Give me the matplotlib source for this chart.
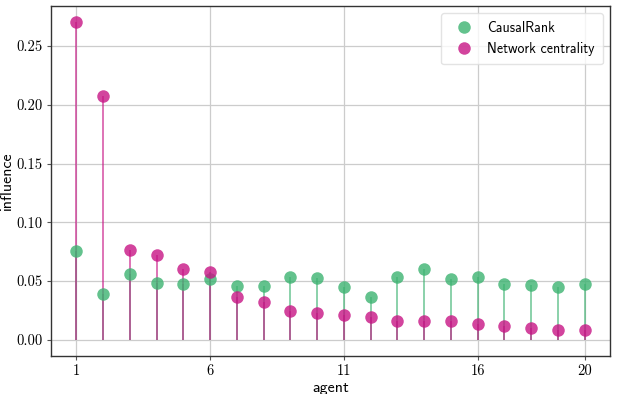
import numpy as np
import matplotlib
matplotlib.use("Agg")
import matplotlib.pyplot as plt

agents = np.arange(1, 21)
causal_rank = [0.0757, 0.0393, 0.0558, 0.0481, 0.0478, 0.0515, 0.0462, 0.0460, 0.0535, 0.0530,
               0.0450, 0.0362, 0.0532, 0.0606, 0.0518, 0.0538, 0.0473, 0.0467, 0.0450, 0.0473]
network_centrality = [0.2707, 0.2072, 0.0765, 0.0720, 0.0603, 0.0581, 0.0365, 0.0325, 0.0249, 0.0226,
                      0.0211, 0.0192, 0.0163, 0.0163, 0.0163, 0.0138, 0.0118, 0.0104, 0.0087, 0.0087]
xticks = [1, 6, 11, 16, 20]

green = "#3CB371"
magenta = "#C71585"

fig, ax = plt.subplots(figsize=(6.23, 3.94), dpi=100)

for vals, col, lab in ((causal_rank, green, "CausalRank"),
                       (network_centrality, magenta, "Network centrality")):
    ax.vlines(agents, 0, vals, color=col, alpha=0.6, lw=1.4, zorder=2)
    ax.plot(agents, vals, "o", color=col, alpha=0.8, ms=9, mew=0, label=lab, zorder=3)

ax.set_xticks(xticks)
ax.set_yticks(np.arange(0, 0.26, 0.05))
ax.set_yticklabels([f"{v:.2f}" for v in np.arange(0, 0.26, 0.05)])
for t in ax.get_xticklabels() + ax.get_yticklabels():
    t.set_fontfamily("cmr10")
    t.set_fontsize(10.5)
ax.tick_params(length=3, width=0.8, color="#555555", pad=3)

ax.grid(True, color="#cccccc", lw=0.9)
ax.set_axisbelow(True)
for s in ax.spines.values():
    s.set_color("#333333")
    s.set_linewidth(1.0)

ax.set_xlabel("agent", family="cmss10", fontsize=11.5, labelpad=2)
ax.set_ylabel("influence", family="cmss10", fontsize=11.5, labelpad=2)

leg = ax.legend(loc="upper right", prop={"family": "cmss10", "size": 10},
                handletextpad=0.7, borderpad=0.6, framealpha=0.8)
leg.get_frame().set_edgecolor("#dddddd")

fig.subplots_adjust(left=0.082, right=0.979, top=0.985, bottom=0.097)
fig.savefig("out.png", dpi=100)
